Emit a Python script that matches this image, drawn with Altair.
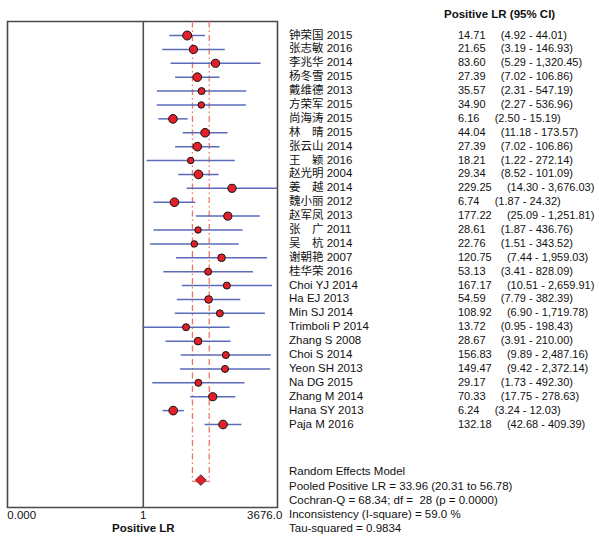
import altair as alt
import pandas as pd

FONT = "Liberation Sans, Arial, Noto Sans CJK SC, sans-serif"
NB = "\u00a0"

studies = ["钟荣国 2015", "张志敏 2016", "李兆华 2014", "杨冬雪 2015", "戴维德 2013",
           "方荣军 2015", "尚海涛 2015", "林\u3000晴 2015", "张云山 2014", "王\u3000颖 2016",
           "赵光明 2004", "姜\u3000越 2014", "魏小丽 2012", "赵军凤 2013", "张\u3000广 2011",
           "吴\u3000杭 2014", "谢朝艳 2007", "桂华荣 2016", "Choi YJ 2014", "Ha EJ 2013",
           "Min SJ 2014", "Trimboli P 2014", "Zhang S 2008", "Choi S 2014", "Yeon SH 2013",
           "Na DG 2015", "Zhang M 2014", "Hana SY 2013", "Paja M 2016"]
lr = [14.71, 21.65, 83.60, 27.39, 35.57, 34.90, 6.16, 44.04, 27.39, 18.21, 29.34, 229.25,
      6.74, 177.22, 28.61, 22.76, 120.75, 53.13, 167.17, 54.59, 108.92, 13.72, 28.67,
      156.83, 149.47, 29.17, 70.33, 6.24, 132.18]
lo = [4.92, 3.19, 5.29, 7.02, 2.31, 2.27, 2.50, 11.18, 7.02, 1.22, 8.52, 14.30, 1.87,
      25.09, 1.87, 1.51, 7.44, 3.41, 10.51, 7.79, 6.90, 0.95, 3.91, 9.89, 9.42, 1.73,
      17.75, 3.24, 42.68]
hi = [44.01, 146.93, 1320.45, 106.86, 547.19, 536.96, 15.19, 173.57, 106.86, 272.14,
      101.09, 3676.03, 24.32, 1251.81, 436.76, 343.52, 1959.03, 828.09, 2659.91, 382.39,
      1719.78, 198.43, 210.00, 2487.16, 2372.14, 492.30, 278.63, 12.03, 409.39]
weights = [4.3, 3.7, 3.7, 4.1, 3.0, 2.7, 4.1, 4.1, 4.1, 2.7, 4.1, 3.7, 4.1, 3.7, 2.7,
           2.7, 3.4, 3.0, 3.0, 3.4, 3.0, 3.0, 3.4, 3.0, 3.0, 3.0, 3.7, 4.1, 4.1]

pooled_lr = 33.96
pooled_lo = 20.31
pooled_hi = 56.78
axis_min = 1 / 3676.0
axis_max = 3676.0

summary_lines = ["Random Effects Model",
                 "Pooled Positive LR = 33.96 (20.31 to 56.78)",
                 "Cochran-Q = 68.34; df =" + NB + NB + "28 (p = 0.0000)",
                 "Inconsistency (I-square) = 59.0 %",
                 "Tau-squared = 0.9834"]
summary_rows = [31.4, 32.5, 33.5, 34.5, 35.5]

df = pd.DataFrame({"row": list(range(len(studies))), "study": studies,
                   "lr": lr, "lo": lo, "hi": hi, "w": weights})
df["label"] = [f"{a:,.2f}" + NB * 5 + f"({b:,.2f} - {c:,.2f})" for a, b, c in zip(lr, lo, hi)]

pool = pd.DataFrame({"est": [pooled_lr], "lo": [pooled_lo], "hi": [pooled_hi]})
summ = pd.DataFrame({"row": summary_rows, "text": summary_lines})
one = pd.DataFrame({"a": [0]})

xs = alt.Scale(type="log", domain=[axis_min, axis_max], range=[9.3, 277.3], clamp=True)
ys = alt.Scale(type="linear", domain=[0, 28], range=[35.5, 424.5], zero=False, nice=False)

frame = alt.Chart(one).mark_rect(fill="transparent", stroke="#4a4a4a", strokeWidth=1.6).encode(
    x=alt.value(7.5), x2=alt.value(277.5), y=alt.value(21.5), y2=alt.value(507.5))

center = alt.Chart(one).mark_rule(color="#505050", strokeWidth=1.6).encode(
    x=alt.X(datum=1, scale=xs, axis=None),
    y=alt.value(21.5), y2=alt.value(507.5))

dash_lo = alt.Chart(pool).mark_rule(color="#f07565", strokeWidth=1.3, strokeDash=[6, 3, 1.5, 3]).encode(
    x=alt.X("lo:Q", scale=xs, axis=None),
    y=alt.Y(datum=-1, scale=ys, axis=None), y2=alt.datum(32.1))
dash_hi = alt.Chart(pool).mark_rule(color="#f07565", strokeWidth=1.3, strokeDash=[6, 3, 1.5, 3]).encode(
    x=alt.X("hi:Q", scale=xs, axis=None),
    y=alt.Y(datum=-1, scale=ys, axis=None), y2=alt.datum(32.1))
stub = alt.Chart(pool).mark_rule(color="#f07565", strokeWidth=1.3).encode(
    x=alt.X("lo:Q", scale=xs, axis=None), x2="hi:Q",
    y=alt.Y(datum=32.1, scale=ys, axis=None))

ci = alt.Chart(df).mark_rule(color="#5b6bb8", strokeWidth=1.5).encode(
    x=alt.X("lo:Q", scale=xs, axis=None), x2="hi:Q",
    y=alt.Y("row:Q", scale=ys, axis=None))

pts = alt.Chart(df).mark_point(shape="circle", filled=True, fill="#e3202a", stroke="#111",
                               strokeWidth=1, opacity=1).encode(
    x=alt.X("lr:Q", scale=xs, axis=None),
    y=alt.Y("row:Q", scale=ys, axis=None),
    size=alt.Size("w:Q", scale=alt.Scale(domain=[2.7, 4.3], range=[42, 80]), legend=None))

diamond = alt.Chart(pool).mark_point(shape="diamond", filled=True, fill="#e3202a", stroke="#222",
                                     strokeWidth=0.8, opacity=1, size=115).encode(
    x=alt.X("est:Q", scale=xs, axis=None),
    y=alt.Y(datum=32, scale=ys, axis=None))

txt = dict(font=FONT, fontSize=11.5, color="#111", baseline="middle")
txt11 = dict(font=FONT, fontSize=11, color="#111", baseline="middle")

names = alt.Chart(df).mark_text(align="left", **txt).encode(
    x=alt.value(289), y=alt.Y("row:Q", scale=ys, axis=None), text="study:N")
vals = alt.Chart(df).mark_text(align="left", **txt11).encode(
    x=alt.value(458), y=alt.Y("row:Q", scale=ys, axis=None), text="label:N")
header = alt.Chart(one).mark_text(align="left", fontWeight="bold", **txt).encode(
    x=alt.value(444), y=alt.value(15), text=alt.value("Positive LR (95% CI)"))
summary = alt.Chart(summ).mark_text(align="left", **txt).encode(
    x=alt.value(289), y=alt.Y("row:Q", scale=ys, axis=None), text="text:N")

lab_min = alt.Chart(one).mark_text(align="left", dx=-2, **txt).encode(
    x=alt.X(datum=axis_min, scale=xs, axis=None), y=alt.value(516), text=alt.value("0.000"))
lab_one = alt.Chart(one).mark_text(align="center", **txt).encode(
    x=alt.X(datum=1, scale=xs, axis=None), y=alt.value(516), text=alt.value("1"))
lab_max = alt.Chart(one).mark_text(align="right", dx=5, **txt).encode(
    x=alt.X(datum=axis_max, scale=xs, axis=None), y=alt.value(516), text=alt.value("3676.0"))
xtitle = alt.Chart(one).mark_text(align="center", fontWeight="bold", **txt).encode(
    x=alt.X(datum=1, scale=xs, axis=None), y=alt.value(529), text=alt.value("Positive LR"))

chart = alt.layer(
    frame, center, dash_lo, dash_hi, stub, ci, pts, diamond,
    names, vals, header, summary, lab_min, lab_one, lab_max, xtitle
).properties(
    width=599, height=537, padding=0, autosize=alt.AutoSizeParams(type="none"),
    background="white"
).configure_view(stroke=None)

chart.save("out.html", embed_options={"renderer": "svg", "actions": False})
